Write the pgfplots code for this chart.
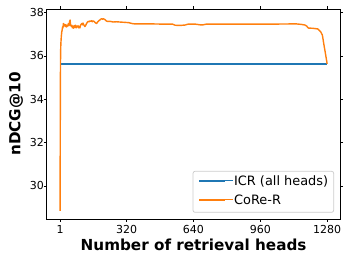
\documentclass[border=0pt]{standalone}
\usepackage{pgfplots}
\pgfplotsset{compat=1.18}
\usepackage{fontspec}
\setmainfont{DejaVu Sans}
\definecolor{mplblue}{HTML}{1F77B4}
\definecolor{mplorange}{HTML}{FF7F0E}
\begin{document}
\begin{tikzpicture}[x=1pt,y=1pt]
\useasboundingbox (0,0) rectangle (351,263);
\begin{axis}[
  at={(46.7pt,44pt)}, anchor=south west,
  scale only axis, width=293.8pt, height=210pt,
  xmin=-62.95, xmax=1343.95, ymin=28.47, ymax=38.17,
  xtick={1,320,640,960,1280}, xticklabels={1,320,640,960,1280},
  ytick={30,32,34,36,38}, yticklabels={30,32,34,36,38},
  tick align=outside, major tick length=2.7pt,
  tick style={black, line width=0.6pt},
  axis line style={black, line width=0.6pt},
  /pgf/number format/assume math mode=true,
  ticklabel style={font=\fontsize{11}{12}\selectfont},
  xticklabel style={anchor=base, inner sep=0pt, yshift=-11.5pt},
  yticklabel style={anchor=east, inner sep=0pt},
  xlabel={\textbf{Number of retrieval heads}},
  ylabel={\textbf{nDCG@10}},
  every axis x label/.style={at={(axis description cs:0.5,-0.151)}, anchor=base, font=\fontsize{15.2}{18}\selectfont},
  every axis y label/.style={at={(axis description cs:-0.1045,0.5)}, anchor=center, rotate=90, font=\fontsize{15.2}{18}\selectfont},
  legend style={at={(axis description cs:0.978,0.030)}, anchor=south east,
    draw=black!20, line width=0.76pt, rounded corners=2pt, fill=white, fill opacity=0.8, text opacity=1, draw opacity=1,
    font=\fontsize{12.9}{15}\selectfont, inner xsep=5.5pt, inner ysep=4.5pt, row sep=6pt,
    nodes={inner sep=0pt, text height=9.5pt, text depth=3.5pt, anchor=base west}},
  legend cell align=left,
  legend image code/.code={\draw[#1, line width=1.7pt, opacity=1] (0pt,4.6pt) -- (26pt,4.6pt); \path (0pt,4.6pt) -- (34pt,4.6pt);},
]
\addplot[mplblue, line width=1.45pt] coordinates {(1,35.64) (1280,35.64)};
\addlegendentry{ICR (all heads)}
\addplot[mplorange, line width=1.4pt, line join=round] coordinates {
(1,28.85) (2,32.5) (3,35.6) (4,36.3) (5,36.6) (7,36.9) (9,37.1) (11,37.2) (13,37.35) (15,37.3)
(17,37.5) (20,37.4) (23,37.46) (26,37.36) (29,37.44) (32,37.34) (35,37.42) (38,37.38) (41,37.5) (44,37.4)
(47,37.6) (49,37.66) (51,37.45) (54,37.38) (57,37.42) (60,37.3) (63,37.38) (66,37.28) (69,37.4) (72,37.32)
(75,37.42) (78,37.3) (81,37.38) (84,37.34) (87,37.4) (90,37.3) (93,37.36) (96,37.3) (99,37.42) (102,37.46)
(105,37.5) (108,37.44) (111,37.52) (114,37.45) (117,37.4) (120,37.36) (124,37.42) (128,37.5) (132,37.56) (136,37.6)
(140,37.58) (144,37.62) (148,37.6) (152,37.63) (156,37.58) (160,37.62) (164,37.6) (168,37.56) (172,37.52) (176,37.5)
(180,37.56) (184,37.6) (188,37.64) (192,37.66) (196,37.7) (200,37.72) (204,37.7) (208,37.72) (212,37.7) (216,37.68)
(222,37.62) (228,37.6) (240,37.6) (255,37.57) (270,37.58) (285,37.57) (300,37.56) (315,37.55) (330,37.54) (345,37.5)
(360,37.48) (400,37.48) (450,37.48) (500,37.47) (540,37.47) (552,37.42) (575,37.41) (600,37.43) (614,37.47) (650,37.47)
(671,37.44) (687,37.44) (700,37.47) (800,37.47) (900,37.47) (1000,37.47) (1100,37.48) (1134,37.48) (1155,37.46) (1174,37.43)
(1182,37.38) (1190,37.29) (1210,37.28) (1235,37.25) (1249,37.12) (1257,36.97) (1265,36.5) (1272,36.1) (1280,35.64)
};
\addlegendentry{CoRe-R}
\end{axis}
\end{tikzpicture}
\end{document}
